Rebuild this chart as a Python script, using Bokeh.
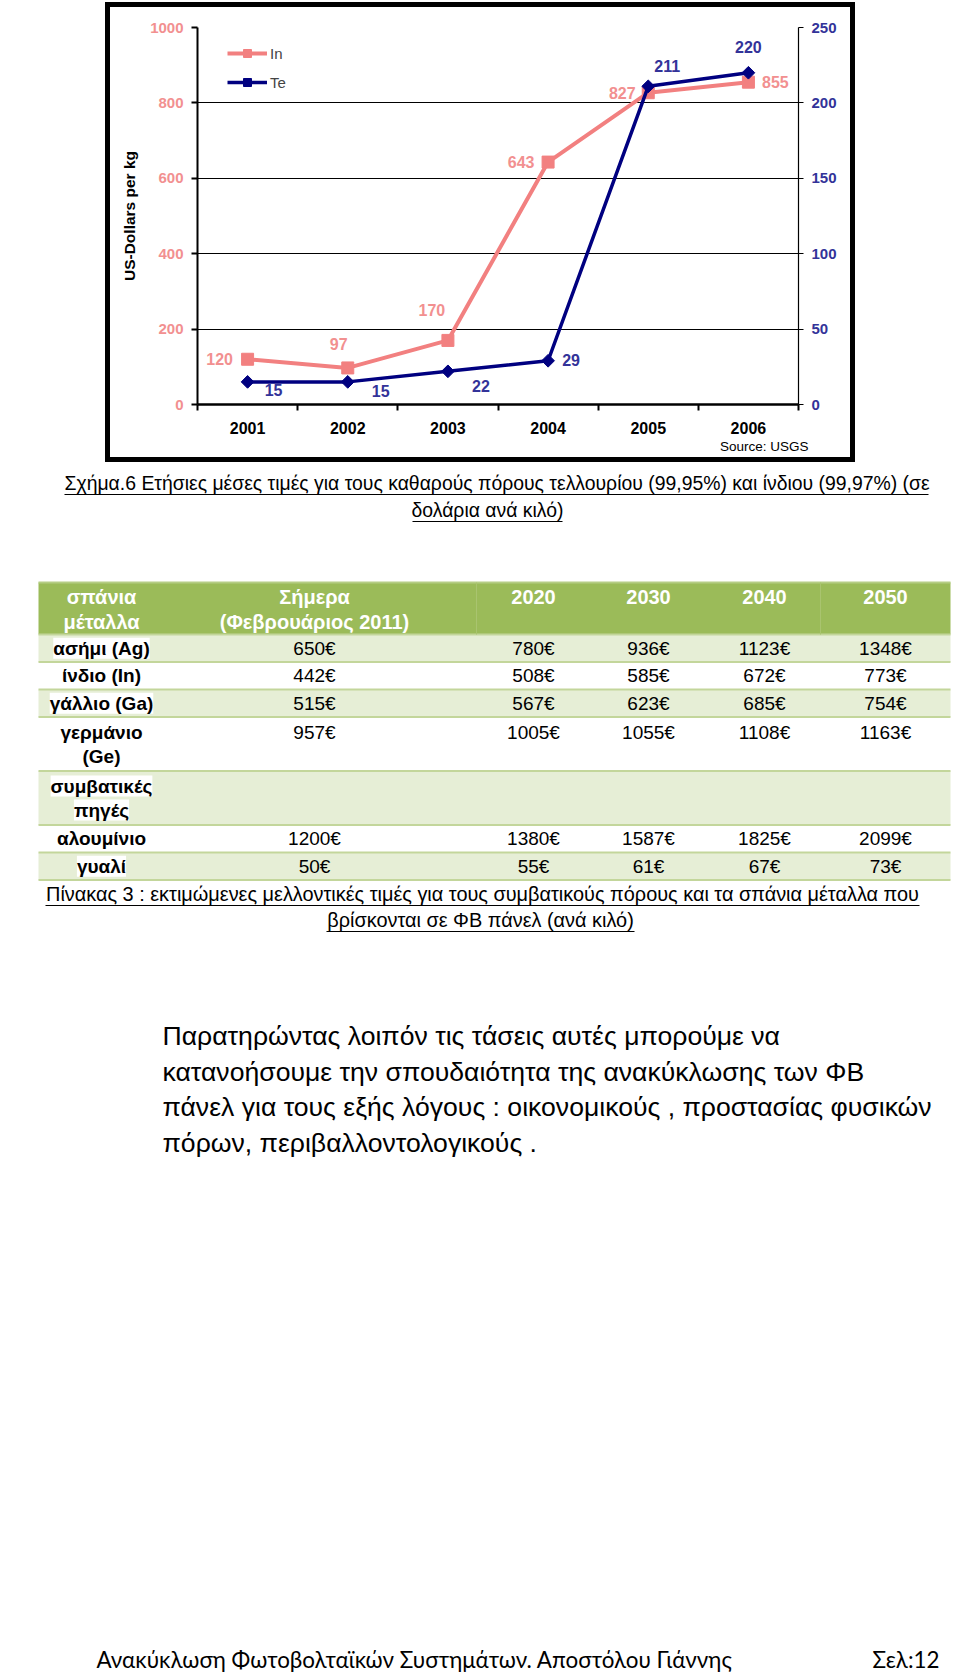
from bokeh.plotting import figure
from bokeh.models import (Range1d, LinearAxis, FixedTicker, Legend, LegendItem,
                          LabelSet, ColumnDataSource, Label, Div, Spacer, Grid, Title)
from bokeh.layouts import column, row
from bokeh.core.properties import value
from bokeh.embed import file_html
from bokeh.resources import INLINE

# ---------------- data ----------------
years = [2001, 2002, 2003, 2004, 2005, 2006]
indium = [120, 97, 170, 643, 827, 855]
tellurium = [15, 15, 22, 29, 211, 220]
left_ticks = [0, 200, 400, 600, 800, 1000]
right_ticks = [0, 50, 100, 150, 200, 250]
series = ["In", "Te"]
y_title = "US-Dollars per kg"
source_note = "Source: USGS"

fig_caption = ["Σχήμα.6 Ετήσιες μέσες τιμές για τους καθαρούς πόρους τελλουρίου (99,95%) και  ίνδιου (99,97%) (σε",
               "δολάρια ανά κιλό)"]

table_header = [["σπάνια", "μέταλλα"], ["Σήμερα", "(Φεβρουάριος 2011)"], ["2020"], ["2030"], ["2040"], ["2050"]]
row_labels = [["ασήμι (Ag)"], ["ίνδιο (In)"], ["γάλλιο (Ga)"], ["γερμάνιο", "(Ge)"],
              ["συμβατικές", "πηγές"], ["αλουμίνιο"], ["γυαλί"]]
price_today = [650, 442, 515, 957, None, 1200, 50]
price_2020 = [780, 508, 567, 1005, None, 1380, 55]
price_2030 = [936, 585, 623, 1055, None, 1587, 61]
price_2040 = [1123, 672, 685, 1108, None, 1825, 67]
price_2050 = [1348, 773, 754, 1163, None, 2099, 73]
table_caption = ["Πίνακας 3 : εκτιμώμενες μελλοντικές τιμές για τους συμβατικούς πόρους και τα σπάνια μέταλλα που",
                 "βρίσκονται σε ΦΒ πάνελ (ανά κιλό)"]
paragraph = ["Παρατηρώντας λοιπόν τις τάσεις αυτές μπορούμε να",
             "κατανοήσουμε την σπουδαιότητα της ανακύκλωσης των ΦΒ",
             "πάνελ για τους εξής λόγους : οικονομικούς , προστασίας φυσικών",
             "πόρων, περιβαλλοντολογικούς ."]
footer_left = "Ανακύκλωση Φωτοβολταϊκών Συστημάτων.  Αποστόλου  Γιάννης"
footer_right = "Σελ:12"

# ---------------- styles / placement ----------------
FONT = "Liberation Sans"
FOOT = "Lato, 'Open Sans', sans-serif"
PINK = "#F28080"
PINK_TXT = "#F29090"
NAVY = "#000080"
NAVY_TXT = "#333399"

in_dx = [-28, -9, -16, -27, -26, 27]
in_dy = [0, 24, 30, 0, 0, 0]
te_dx = [26, 33, 33, 23, 19, 0]
te_dy = [-8, -9, -15, 1, 20, 26]

# ---------------- chart ----------------
chart = figure(width=740, height=450, x_range=Range1d(2000.5, 2006.5), y_range=Range1d(0, 1000),
               x_axis_type=None, y_axis_type=None, output_backend="svg", toolbar_location=None,
               min_border_left=87, min_border_right=52, min_border_top=20, min_border_bottom=53,
               outline_line_color=None, background_fill_color="white", border_fill_color="white")
chart.extra_y_ranges = {"te": Range1d(0, 250)}

boundaries = [y - 0.5 for y in years] + [years[-1] + 0.5]
xaxis = LinearAxis(ticker=FixedTicker(ticks=years, minor_ticks=boundaries))
xaxis.axis_line_width = 2.5
xaxis.axis_line_color = "black"
xaxis.major_tick_line_color = None
xaxis.major_tick_out = 0
xaxis.major_tick_in = 0
xaxis.minor_tick_out = 6
xaxis.minor_tick_in = 0
xaxis.minor_tick_line_width = 2
xaxis.minor_tick_line_color = "black"
xaxis.major_label_standoff = 11
xaxis.major_label_text_font = FONT
xaxis.major_label_text_font_style = "bold"
xaxis.major_label_text_font_size = "16px"
xaxis.major_label_text_color = "black"
chart.add_layout(xaxis, "below")

chart.add_layout(Title(text=source_note, align="right", offset=-10, standoff=0,
                       text_font=FONT, text_font_style="normal", text_font_size="13.5px",
                       text_color="black"), "below")

yaxis = LinearAxis(ticker=FixedTicker(ticks=left_ticks), axis_label=y_title)
yaxis.axis_line_width = 2
yaxis.axis_line_color = "black"
yaxis.major_tick_out = 6
yaxis.major_tick_in = 0
yaxis.major_tick_line_width = 2
yaxis.minor_tick_line_color = None
yaxis.major_label_standoff = 8
yaxis.major_label_text_font = FONT
yaxis.major_label_text_font_style = "bold"
yaxis.major_label_text_font_size = "15px"
yaxis.major_label_text_color = PINK_TXT
yaxis.axis_label_text_font = FONT
yaxis.axis_label_text_font_style = "bold"
yaxis.axis_label_text_font_size = "15.5px"
yaxis.axis_label_text_color = "black"
yaxis.axis_label_standoff = 9
chart.add_layout(yaxis, "left")

raxis = LinearAxis(y_range_name="te", ticker=FixedTicker(ticks=right_ticks))
raxis.axis_line_width = 1.2
raxis.axis_line_color = "black"
raxis.major_tick_out = 5
raxis.major_tick_in = 0
raxis.major_tick_line_width = 1.2
raxis.minor_tick_line_color = None
raxis.major_label_standoff = 8
raxis.major_label_text_font = FONT
raxis.major_label_text_font_style = "bold"
raxis.major_label_text_font_size = "15px"
raxis.major_label_text_color = NAVY_TXT
chart.add_layout(raxis, "right")

chart.add_layout(Grid(dimension=1, ticker=FixedTicker(ticks=left_ticks),
                      grid_line_color="black", grid_line_width=1.2))

src = ColumnDataSource(dict(year=years, inp=indium, te=tellurium,
                            in_lbl=[str(v) for v in indium], te_lbl=[str(v) for v in tellurium],
                            in_dx=in_dx, in_dy=in_dy, te_dx=te_dx, te_dy=te_dy))

in_line = chart.line("year", "inp", source=src, line_color=PINK, line_width=4)
in_pts = chart.scatter("year", "inp", source=src, marker="square", size=12,
                       fill_color=PINK, line_color=PINK)
te_line = chart.line("year", "te", source=src, y_range_name="te", line_color=NAVY, line_width=3.5)
te_pts = chart.scatter("year", "te", source=src, y_range_name="te", marker="square", angle=0.785,
                       size=9, fill_color=NAVY, line_color=NAVY)

chart.add_layout(LabelSet(x="year", y="inp", text="in_lbl", source=src, x_offset="in_dx", y_offset="in_dy",
                          text_align="center", text_baseline="middle", text_font=value(FONT),
                          text_font_style="bold", text_font_size="16px", text_color=PINK_TXT))
chart.add_layout(LabelSet(x="year", y="te", text="te_lbl", source=src, y_range_name="te",
                          x_offset="te_dx", y_offset="te_dy",
                          text_align="center", text_baseline="middle", text_font=value(FONT),
                          text_font_style="bold", text_font_size="16px", text_color=NAVY_TXT))

legend = Legend(items=[LegendItem(label=series[0], renderers=[in_line, in_pts]),
                       LegendItem(label=series[1], renderers=[te_line, te_pts])],
                location=(30, 312), orientation="vertical", border_line_color=None,
                background_fill_alpha=0, glyph_width=40, glyph_height=20, label_height=20,
                spacing=9, padding=5, margin=0, label_standoff=3,
                label_text_font=FONT, label_text_font_size="15px")
chart.add_layout(legend)


def bar(w, h):
    return Div(width=w, height=h, margin=0, styles={"background-color": "black"})


chart_block = column(bar(750, 5), row(bar(5, 450), chart, bar(5, 450)), bar(750, 5))
top = column(Spacer(width=960, height=2), row(Spacer(width=105, height=460), chart_block))

# ---------------- page (captions, table, text) ----------------
page = figure(width=960, height=1210, x_range=Range1d(0, 960), y_range=Range1d(1672, 462),
              x_axis_type=None, y_axis_type=None, output_backend="svg", toolbar_location=None,
              min_border=0, outline_line_color=None, background_fill_color="white",
              border_fill_color="white")

# figure caption
page.text(x=[64], y=[482], text=[fig_caption[0]], text_font=value(FONT), text_font_size="19.4px",
          text_align="left", text_baseline="middle", text_color="black")
page.text(x=[487], y=[509], text=[fig_caption[1]], text_font=value(FONT), text_font_size="19.4px",
          text_align="center", text_baseline="middle", text_color="black")
page.segment(x0=[64, 412], y0=[494, 521], x1=[928, 562], y1=[494, 521], line_color="black", line_width=1.2)

# table geometry
t_left, t_right, t_top = 38, 950, 582
header_h = 52
line_h = 27.5
col_x = [101, 314, 533, 648, 764, 885]
col_seps = [476, 820]
GREEN = "#9BBB59"
LIGHT = "#E6EED6"
RULE = "#C3D69B"

row_tops, row_bots = [], []
y = t_top + header_h
for lines in row_labels:
    row_tops.append(y)
    y += line_h * len(lines) - (1 if len(lines) > 1 else 0)
    row_bots.append(y)

page.quad(left=[t_left], right=[t_right], top=[t_top], bottom=[t_top + header_h],
          fill_color=GREEN, line_color=None)
fills = [LIGHT if i % 2 == 0 else "white" for i in range(len(row_labels))]
page.quad(left=[t_left] * len(row_tops), right=[t_right] * len(row_tops), top=row_tops, bottom=row_bots,
          fill_color=fills, line_color=None)
rules = [t_top + header_h] + row_bots
page.segment(x0=[t_left] * len(rules), x1=[t_right] * len(rules), y0=rules, y1=rules,
             line_color=RULE, line_width=2)
page.segment(x0=[t_left], x1=[t_right], y0=[t_top], y1=[t_top], line_color="#B5CD85", line_width=2)
page.segment(x0=col_seps, x1=col_seps, y0=[t_top] * 2, y1=[t_top + header_h] * 2,
             line_color="#A9C46F", line_width=1)

# header texts
hx, hy, ht = [], [], []
for cx, lines in zip(col_x, table_header):
    for k, s in enumerate(lines):
        hx.append(cx); hy.append(t_top + 14 + k * 25); ht.append(s)
page.text(x=hx, y=hy, text=ht, text_font=value(FONT), text_font_style="bold", text_font_size="20px",
          text_align="center", text_baseline="middle", text_color="white")

# row labels
for i, lines in enumerate(row_labels):
    n = len(lines)
    for k, s in enumerate(lines):
        yy = (row_tops[i] + row_bots[i]) / 2 if n == 1 else row_tops[i] + 15 + k * 24
        page.add_layout(Label(x=col_x[0], y=yy, text=s, text_align="center", text_baseline="middle",
                              text_font=FONT, text_font_style="bold", text_font_size="19px",
                              text_color="black",
                              background_fill_color="white" if fills[i] != "white" else None))

# values
vx, vy, vt = [], [], []
for j, col in enumerate([price_today, price_2020, price_2030, price_2040, price_2050]):
    for i, v in enumerate(col):
        if v is None:
            continue
        n = len(row_labels[i])
        yy = (row_tops[i] + row_bots[i]) / 2 if n == 1 else row_tops[i] + 15
        vx.append(col_x[j + 1]); vy.append(yy); vt.append(f"{v}€")
page.text(x=vx, y=vy, text=vt, text_font=value(FONT), text_font_size="19px",
          text_align="center", text_baseline="middle", text_color="black")

# table caption
page.text(x=[482, 480], y=[893, 919], text=table_caption, text_font=value(FONT), text_font_size="19.9px",
          text_align="center", text_baseline="middle", text_color="black")
page.segment(x0=[45, 326], y0=[905, 931], x1=[919, 634], y1=[905, 931], line_color="black", line_width=1.2)

# paragraph
page.text(x=[162] * 4, y=[1035, 1071, 1106, 1142], text=paragraph, text_font=value(FONT),
          text_font_size="26.6px", text_align="left", text_baseline="middle", text_color="black")

# footer
page.text(x=[96], y=[1659], text=[footer_left], text_font=value(FOOT), text_font_size="22.4px",
          text_align="left", text_baseline="alphabetic", text_color="black")
page.text(x=[939], y=[1659], text=[footer_right], text_font=value(FOOT), text_font_size="22.4px",
          text_align="right", text_baseline="alphabetic", text_color="black")

layout = column(top, page)
open("out.html", "w").write(file_html(layout, INLINE))
